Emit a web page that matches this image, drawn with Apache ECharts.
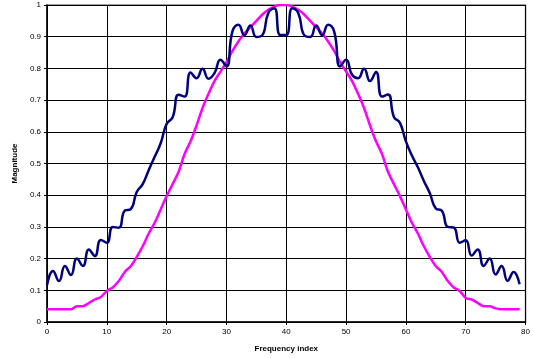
<!DOCTYPE html>
<html>
<head>
<meta charset="utf-8">
<script src="https://cdn.jsdelivr.net/npm/echarts@6/dist/echarts.min.js"></script>
<style>html,body{margin:0;padding:0;background:#fff}#c{width:533px;height:358px}</style>
</head>
<body>
<div id="c"></div>
<script>
var xTicks = [0, 10, 20, 30, 40, 50, 60, 70, 80];
var yTicks = [0, 0.1, 0.2, 0.3, 0.4, 0.5, 0.6, 0.7, 0.8, 0.9, 1];
var navySeries = [
  0.116, 0.161, 0.129, 0.177, 0.148, 0.200, 0.177, 0.229, 0.208, 0.259,
  0.250, 0.300, 0.297, 0.351, 0.356, 0.410, 0.435, 0.479, 0.521, 0.564,
  0.625, 0.646, 0.717, 0.711, 0.787, 0.769, 0.799, 0.767, 0.785, 0.827,
  0.806, 0.917, 0.938, 0.905, 0.935, 0.899, 0.905, 0.975, 0.990, 0.905,
  0.905, 0.990, 0.975, 0.905, 0.899, 0.935, 0.905, 0.938, 0.917, 0.806,
  0.827, 0.780, 0.769, 0.799, 0.760, 0.789, 0.711, 0.718, 0.647, 0.628,
  0.570, 0.525, 0.488, 0.445, 0.406, 0.358, 0.351, 0.300, 0.298, 0.250,
  0.258, 0.210, 0.229, 0.177, 0.200, 0.150, 0.177, 0.130, 0.158, 0.119
];
var magentaSeries = [
  0.040, 0.040, 0.040, 0.040, 0.040, 0.050, 0.050, 0.060, 0.071, 0.079,
  0.098, 0.109, 0.129, 0.158, 0.176, 0.205, 0.239, 0.279, 0.313, 0.355,
  0.397, 0.435, 0.474, 0.530, 0.570, 0.620, 0.675, 0.720, 0.760, 0.790,
  0.820, 0.855, 0.885, 0.910, 0.930, 0.950, 0.970, 0.985, 0.995, 1.000,
  1.000, 0.995, 0.985, 0.970, 0.950, 0.930, 0.910, 0.885, 0.855, 0.820,
  0.790, 0.760, 0.720, 0.675, 0.620, 0.570, 0.530, 0.474, 0.435, 0.397,
  0.355, 0.313, 0.279, 0.239, 0.205, 0.176, 0.158, 0.129, 0.109, 0.098,
  0.076, 0.071, 0.060, 0.050, 0.050, 0.043, 0.040, 0.040, 0.040, 0.040
];
function pairs(arr){ return arr.map(function(v,i){ return [i, v]; }); }
var chart = echarts.init(document.getElementById('c'), null, {renderer:'canvas'});
var font = 'Liberation Sans, Arial, sans-serif';
chart.setOption({
  animation: false,
  backgroundColor: '#fff',
  grid: {left: 47, right: 6, top: 5, bottom: 36, show: true, borderColor: '#808080', borderWidth: 1.5, backgroundColor: 'transparent'},
  xAxis: {
    type: 'value', min: xTicks[0], max: xTicks[xTicks.length-1], interval: 10,
    name: 'Frequency index', nameLocation: 'middle', nameGap: 23,
    nameTextStyle: {fontFamily: font, fontSize: 8, fontWeight: 'bold', color: '#000'},
    axisLine: {show: true, lineStyle: {color: '#000', width: 1.5}},
    axisTick: {show: true, length: 3, lineStyle: {color: '#000'}},
    axisLabel: {fontFamily: font, fontSize: 8, color: '#000', margin: 6},
    splitLine: {show: true, lineStyle: {color: '#000', width: 1}}
  },
  yAxis: {
    type: 'value', min: yTicks[0], max: yTicks[yTicks.length-1], interval: 0.1,
    name: 'Magnitude', nameLocation: 'middle', nameGap: 20,
    nameTextStyle: {fontFamily: font, fontSize: 8, fontWeight: 'bold', color: '#000'},
    axisLine: {show: true, lineStyle: {color: '#000', width: 1.5}},
    axisTick: {show: true, length: 3, lineStyle: {color: '#000'}},
    axisLabel: {fontFamily: font, fontSize: 8, color: '#000', margin: 6},
    splitLine: {show: true, lineStyle: {color: '#000', width: 1}}
  },
  series: [
    {type: 'line', data: pairs(magentaSeries), smooth: 0.3, symbol: 'none',
     lineStyle: {color: '#FF00FF', width: 2.5}},
    {type: 'line', data: pairs(navySeries), smooth: 0.5, symbol: 'none',
     lineStyle: {color: '#000080', width: 2.5}}
  ]
});
</script>
</body>
</html>
